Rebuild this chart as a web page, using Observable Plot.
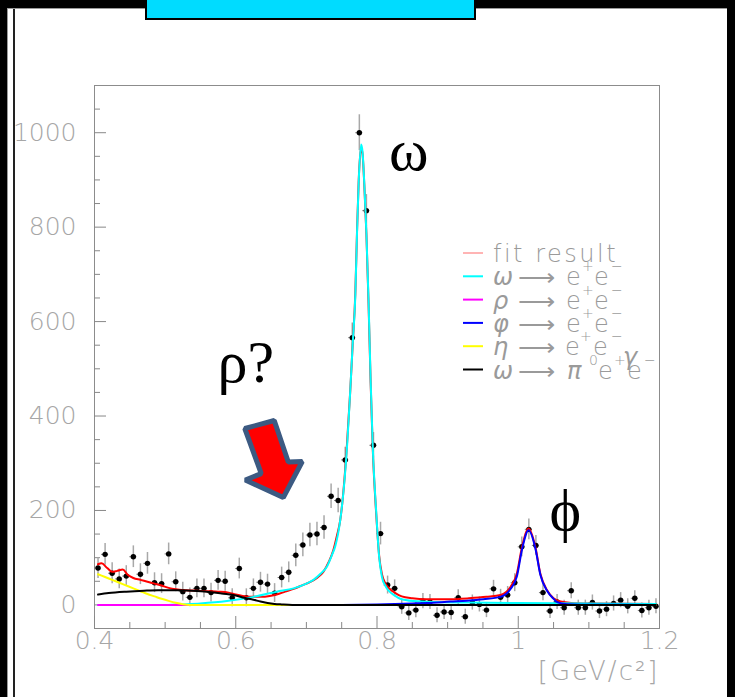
<!DOCTYPE html>
<html>
<head>
<meta charset="utf-8">
<script src="https://cdn.jsdelivr.net/npm/d3@7"></script>
<script src="https://cdn.jsdelivr.net/npm/@observablehq/plot@0.6"></script>
<style>
  html, body { margin: 0; padding: 0; background: #000; overflow: hidden; }
  #canvas { position: relative; width: 735px; height: 697px; background: #000; }
  #panel { position: absolute; left: 7px; top: 8px; width: 720px; height: 689px; background: #fff;
           border-left: 1px solid #9a9a9a; border-top: 1px solid #9a9a9a; box-sizing: border-box; }
  #innerline { position: absolute; left: 13px; top: 9px; width: 1.5px; height: 688px; background: #222; }
  #titlebox { position: absolute; left: 145px; top: -2px; width: 331px; height: 22px; background: #00dcff;
              border: 2px solid #000; border-top: none; box-sizing: border-box; }
  #chart { position: absolute; left: 0; top: 0; }
</style>
</head>
<body>
<div id="canvas">
  <div id="panel"></div>
  <div id="innerline"></div>
  <div id="titlebox"></div>
  <div id="chart"></div>
</div>
<script>
// e+e- invariant mass spectrum, 10 MeV bins from 0.4 to 1.2 GeV/c^2
const binLow = 0.4;
const binWidth = 0.01;

const counts = [
  78, 107, 67, 55, 61, 102, 65, 88, 47, 45,
  108, 49, 28, 16, 35, 35, 26, 52, 50, 15,
  77, 15, 35, 48, 44, 25, 58, 69, 105, 127,
  148, 150, 164, 230, 221, 307, 566, 1000, 835, 338,
  151, 42, 35, -4, -17, -11, 8, 6, -22, -15,
  -16, 15, -25, 5, 1, -11, 34, 16, 21, 47,
  123, 160, 126, 26, -13, 6, -6, 30, -6, -6,
  5, -13, -9, 3, 10, -3, 14, -12, -6, -3
];

const errors = [
  22, 23, 22, 21, 22, 23, 22, 23, 21, 21,
  23, 21, 20, 20, 20, 20, 20, 21, 21, 19,
  22, 19, 20, 21, 21, 20, 22, 22, 24, 25,
  25, 25, 25, 26, 26, 27, 31, 38, 34, 27,
  24, 19, 18, 16, 16, 16, 16, 16, 16, 16,
  16, 17, 16, 16, 16, 16, 18, 17, 18, 19,
  21, 22, 21, 17, 16, 16, 16, 17, 16, 16,
  16, 16, 16, 16, 16, 16, 16, 16, 16, 16
];

// fit curves: [mass, counts]
const fitTotal = [
  [0.405, 86], [0.41, 88], [0.418, 78], [0.425, 70], [0.432, 72], [0.44, 75], [0.447, 64],
  [0.455, 57], [0.465, 53], [0.475, 49], [0.485, 45], [0.495, 41], [0.505, 36], [0.515, 33],
  [0.53, 31], [0.545, 30], [0.56, 29], [0.575, 28], [0.59, 26], [0.6, 22], [0.61, 19],
  [0.625, 17], [0.638, 17], [0.648, 19], [0.658, 22], [0.67, 28], [0.682, 34], [0.695, 42],
  [0.705, 48], [0.715, 57], [0.724, 70], [0.732, 92], [0.738, 115], [0.743, 145], [0.748, 180],
  [0.753, 250], [0.7575, 340], [0.762, 450], [0.7655, 550], [0.7693, 660], [0.7717, 790],
  [0.774, 895], [0.7773, 968], [0.7795, 955], [0.782, 890], [0.785, 785], [0.788, 640],
  [0.791, 470], [0.794, 330], [0.799, 190], [0.803, 105], [0.807, 65], [0.812, 45], [0.818, 34],
  [0.826, 25], [0.835, 18], [0.85, 14], [0.87, 12], [0.9, 12], [0.93, 14], [0.955, 17],
  [0.975, 21], [0.989, 38], [0.998, 66], [1.0054, 123], [1.0147, 162], [1.0242, 123],
  [1.0313, 66], [1.0408, 31], [1.05, 14], [1.06, 7], [1.075, 4], [1.1, 3], [1.15, 2.5], [1.195, 2]
];

const omegaEE = [
  [0.405, 0], [0.505, 0], [0.52, 1], [0.55, 3], [0.5875, 8], [0.625, 17], [0.658, 28],
  [0.682, 35], [0.7, 45], [0.71, 53], [0.72, 66], [0.729, 81], [0.736, 105], [0.741, 125],
  [0.748, 180], [0.754, 264], [0.758, 345], [0.762, 450], [0.7655, 550], [0.7693, 655],
  [0.7717, 787], [0.774, 893], [0.7775, 975], [0.7795, 960], [0.782, 893], [0.785, 787],
  [0.788, 646], [0.791, 476], [0.794, 335], [0.799, 194], [0.803, 102], [0.807, 59],
  [0.812, 40], [0.816, 31], [0.825, 20], [0.833, 13], [0.852, 8], [0.88, 6], [0.93, 5],
  [1.0, 4], [1.1, 3], [1.195, 2]
];

const rhoEE = [[0.405, 0], [1.195, 0]];

const phiEE = [
  [0.75, 0], [0.8, 1], [0.85, 3], [0.871, 4], [0.904, 7], [0.9275, 9],
  [0.9506, 12], [0.9747, 17], [0.9888, 33], [0.998, 60], [1.0054, 118], [1.0147, 158],
  [1.0242, 120], [1.0313, 64], [1.0408, 30], [1.05, 13], [1.055, 6], [1.069, 1.5],
  [1.088, 0.5], [1.195, 0]
];

const etaDalitz = [
  [0.405, 65], [0.415, 59], [0.425, 53], [0.44, 44], [0.455, 35], [0.465, 29], [0.475, 23],
  [0.485, 18], [0.495, 13], [0.505, 8.5], [0.515, 4.5], [0.525, 1.5], [0.535, 0], [1.195, 0]
];

const omegaDalitz = [
  [0.405, 22], [0.42, 25], [0.445, 28], [0.47, 30], [0.49, 31], [0.52, 31], [0.545, 29.5],
  [0.565, 27], [0.58, 24], [0.6, 20], [0.612, 15], [0.625, 11], [0.635, 7], [0.645, 4],
  [0.655, 2], [0.665, 1], [0.68, 0], [1.195, 0]
];

// axis ticks
const xMajorTicks = [0.4, 0.6, 0.8, 1.0, 1.2];
const xTickLabels = ["0.4", "0.6", "0.8", "1", "1.2"];
const xMinorTicks = [0.45, 0.5, 0.55, 0.65, 0.7, 0.75, 0.85, 0.9, 0.95, 1.05, 1.1, 1.15];
const yMajorTicks = [0, 200, 400, 600, 800, 1000];
const yTickLabels = ["0", "200", "400", "600", "800", "1000"];
const yMinorTicks = [-50, 50, 100, 150, 250, 300, 350, 450, 500, 550, 650, 700, 750, 850, 900, 950, 1050];

// peak names, centred in data coordinates
const peakNames = ["ω", "ρ?", "ϕ"];
const peakNameMass = [0.8448, 0.6143, 1.0666];
const peakNameCount = [961, 513, 199];

// outline of the pointer arrow, in data coordinates
const arrowMass = [0.6128, 0.6545, 0.6744, 0.6942, 0.6673, 0.6135, 0.6361];
const arrowCount = [373.5, 390.5, 302.5, 303.6, 227.3, 264.4, 278.1];

const axisTitle = "[GeV/c²]";

const points = counts.map((v, i) => ({m: binLow + binWidth * (i + 0.5), v, e: errors[i]}));
const labels = peakNames.map((t, i) => ({t, m: peakNameMass[i], v: peakNameCount[i]}));
const arrow = arrowMass.map((m, i) => ({m, v: arrowCount[i]}));

const thinFont = "'DejaVu Sans', sans-serif";
const textGrey = "#a6a6a6";
const curveStyle = {x: d => d[0], y: d => d[1], strokeWidth: 2, curve: "monotone-x"};

const chart = Plot.plot({
  width: 735,
  height: 697,
  marginLeft: 94,
  marginRight: 76,
  marginTop: 85,
  marginBottom: 69,
  style: {background: "transparent"},
  x: {domain: [0.4, 1.2]},
  y: {domain: [-50, 1100]},
  marks: [
    Plot.frame({stroke: "#8c8c8c"}),
    // tick labels
    Plot.axisX({ticks: xMajorTicks, tickSize: 0, tickPadding: 3, tickFormat: (d, i) => xTickLabels[i],
      fill: textGrey, fontSize: 25, fontFamily: thinFont, fontWeight: 200, label: null}),
    Plot.axisY({ticks: yMajorTicks, tickSize: 0, tickPadding: 18, tickFormat: (d, i) => yTickLabels[i],
      fill: textGrey, fontSize: 25, fontFamily: thinFont, fontWeight: 200, label: null}),
    // inward ticks
    Plot.axisX({ticks: xMajorTicks, tickSize: -12, fill: "none", stroke: "#888"}),
    Plot.axisX({ticks: xMinorTicks, tickSize: -6, fill: "none", stroke: "#888"}),
    Plot.axisY({ticks: yMajorTicks, tickSize: -12, fill: "none", stroke: "#888"}),
    Plot.axisY({ticks: yMinorTicks, tickSize: -6, fill: "none", stroke: "#888"}),
    Plot.text([axisTitle], {frameAnchor: "bottom-right", textAnchor: "end", lineAnchor: "top", dy: 33,
      fill: textGrey, fontSize: 26, fontFamily: thinFont, fontWeight: 200}),
    // data with error bars
    Plot.ruleX(points, {x: "m", y1: d => d.v - d.e, y2: d => d.v + d.e, stroke: "#a8a8a8", strokeWidth: 1.5}),
    Plot.ruleY(points, {y: "v", x1: d => d.m - binWidth / 2, x2: d => d.m + binWidth / 2, stroke: "#777", strokeWidth: 1}),
    Plot.dot(points, {x: "m", y: "v", r: 2.7, fill: "black", stroke: "none"}),
    // fit components
    Plot.line(fitTotal, {...curveStyle, stroke: "#ff0000"}),
    Plot.line(omegaEE, {...curveStyle, stroke: "#00ffff"}),
    Plot.line(phiEE, {...curveStyle, stroke: "#0000ff"}),
    Plot.line(rhoEE, {...curveStyle, stroke: "#ff00ff"}),
    Plot.line(etaDalitz, {...curveStyle, stroke: "#ffff00"}),
    Plot.line(omegaDalitz, {...curveStyle, stroke: "#000000"}),
    // annotations
    Plot.line(arrow, {x: "m", y: "v", curve: "linear-closed", fill: "#ff0000", stroke: "#3c5a82",
      strokeWidth: 5, strokeLinejoin: "miter"}),
    Plot.text(labels, {x: "m", y: "v", text: "t", textAnchor: "middle", fill: "black",
      fontSize: 60, fontFamily: "'Liberation Serif', 'DejaVu Serif', serif"})
  ]
});

document.getElementById("chart").appendChild(chart);

const svg = d3.select(chart);

// the unit label is set a little wider than the tick labels
svg.selectAll("text").filter(function () { return this.textContent === axisTitle; })
  .attr("letter-spacing", 2);

// legend, drawn inside the frame at the upper right
const legendEntries = [
  {color: "#ffb4b4", parts: [{t: "fit result", dx: 0}]},
  {color: "#00ffff", parts: [{t: "ω", dx: 0, it: true}, {t: "⟶", dx: 25, arrow: true}, {t: "e", dx: 73}, {t: "+", dx: 89, sup: true}, {t: "e", dx: 101}, {t: "−", dx: 118, sup: true}]},
  {color: "#ff00ff", parts: [{t: "ρ", dx: 0, it: true}, {t: "⟶", dx: 25, arrow: true}, {t: "e", dx: 73}, {t: "+", dx: 89, sup: true}, {t: "e", dx: 101}, {t: "−", dx: 118, sup: true}]},
  {color: "#0000ff", parts: [{t: "φ", dx: 0, it: true}, {t: "⟶", dx: 25, arrow: true}, {t: "e", dx: 73}, {t: "+", dx: 89, sup: true}, {t: "e", dx: 101}, {t: "−", dx: 118, sup: true}]},
  {color: "#ffff00", parts: [{t: "η", dx: 0, it: true}, {t: "⟶", dx: 25, arrow: true}, {t: "e", dx: 72}, {t: "+", dx: 87, sup: true}, {t: "e", dx: 100}, {t: "−", dx: 118, sup: true}, {t: "γ", dx: 130, it: true, low: true}]},
  {color: "#000000", parts: [{t: "ω", dx: 0, it: true}, {t: "⟶", dx: 25, arrow: true}, {t: "π", dx: 74, it: true}, {t: "0", dx: 96, sup: true}, {t: "e", dx: 105}, {t: "+", dx: 121, sup: true}, {t: "e", dx: 134}, {t: "−", dx: 151, sup: true}]}
];

const legend = svg.append("g").attr("class", "legend").attr("text-anchor", "start");
const legendX = 463, textX = 493, firstBaseline = 262, rowStep = 23.3;
legendEntries.forEach((entry, i) => {
  const base = firstBaseline + i * rowStep;
  legend.append("line")
    .attr("x1", legendX).attr("x2", legendX + 20)
    .attr("y1", base - 9).attr("y2", base - 9)
    .attr("stroke", entry.color).attr("stroke-width", 2);
  entry.parts.forEach(p => {
    legend.append("text")
      .attr("x", textX + p.dx)
      .attr("y", p.sup ? base - 14 : p.low ? base + 10 : p.arrow ? base + 1 : base)
      .attr("text-anchor", "start")
      .attr("font-family", thinFont)
      .attr("font-weight", 200)
      .attr("font-style", p.it ? "italic" : "normal")
      .attr("font-size", p.sup ? 14 : p.arrow ? 26 : 24)
      .attr("letter-spacing", p.t === "fit result" ? 2.5 : 0)
      .attr("fill", "#9a9a9a")
      .text(p.t);
  });
});
</script>
</body>
</html>
